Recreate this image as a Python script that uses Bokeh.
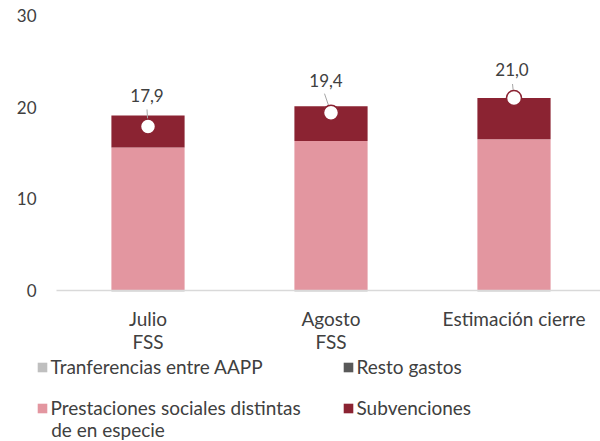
from bokeh.plotting import figure
from bokeh.models import (ColumnDataSource, FixedTicker, Range1d, Legend,
                          LegendItem, Label)
from bokeh.core.properties import value
from bokeh.embed import file_html
from bokeh.resources import INLINE

# ---------------- data ----------------
categories = ["Julio\nFSS", "Agosto\nFSS", "Estimación cierre"]
prestaciones = [15.6, 16.3, 16.5]      # Prestaciones sociales distintas de en especie
subvenciones = [3.5, 3.8, 4.5]         # Subvenciones
transferencias = [-0.1, -0.1, -0.1]    # Tranferencias entre AAPP
resto_gastos = [0.0, 0.0, 0.0]         # Resto gastos
total = [17.9, 19.4, 21.0]             # total (markers)
y_ticks = [0, 10, 20, 30]
legend_labels = ["Tranferencias entre AAPP", "Resto gastos",
                 "Prestaciones sociales distintas", "Subvenciones"]
legend_label_2nd_line = "de en especie"

# ---------------- styling / layout ----------------
FONT = "Lato"
TXT = "#404040"
C_PREST = "#E396A0"
C_SUBV = "#8B2332"
C_TRANS = "#BFBFBF"
C_RESTO = "#595959"

W, H = 600, 441
ORIGIN_X, ORIGIN_Y = 56, 290       # pixel position of (0, 0)
PX_X = 183.0                       # pixels per category
PX_Y = 275.0 / 30                  # pixels per unit
X_START, X_END = -ORIGIN_X / PX_X, (W - ORIGIN_X) / PX_X
Y_START, Y_END = -(H - ORIGIN_Y) / PX_Y, ORIGIN_Y / PX_Y
BAR_W = 0.4

# data-label placement (screen px relative to the marker)
label_dx = [-1, -5, -2]
label_dy = [-31, -32, -29]
leader_dx = [-1, -6.5, -1.5]
leader_dy = [-17, -19, -14]

xc = [i + 0.5 for i in range(len(categories))]
subv_top = [a + b for a, b in zip(prestaciones, subvenciones)]
resto_top = [a + b for a, b in zip(transferencias, resto_gastos)]

p = figure(width=W, height=H, output_backend="svg", toolbar_location=None,
           title=None, x_range=Range1d(X_START, X_END), y_range=Range1d(Y_START, Y_END),
           min_border=0)
p.outline_line_color = None
p.grid.visible = False

r_prest = p.vbar(x=xc, width=BAR_W, bottom=0, top=prestaciones,
                 fill_color=C_PREST, line_color=None)
r_subv = p.vbar(x=xc, width=BAR_W, bottom=prestaciones, top=subv_top,
                fill_color=C_SUBV, line_color=None)
r_trans = p.vbar(x=xc, width=BAR_W, bottom=transferencias, top=0,
                 fill_color=C_TRANS, line_color=None)
r_resto = p.vbar(x=xc, width=BAR_W, bottom=resto_top, top=transferencias,
                 fill_color=C_RESTO, line_color=None)

# leader lines
x1 = [x + d / PX_X for x, d in zip(xc, leader_dx)]
y1 = [t - d / PX_Y for t, d in zip(total, leader_dy)]
p.segment(x0=xc, y0=total, x1=x1, y1=y1, line_color="#A6A6A6", line_width=1)

# total markers
p.scatter(x=xc, y=total, size=15, marker="circle", fill_color="white",
          line_color=C_SUBV, line_width=1.5)

# data labels
lab_src = ColumnDataSource(dict(
    x=xc, y=total, dx=label_dx, dy=label_dy,
    t=[f"{v:.1f}".replace(".", ",") for v in total]))
p.text(x="x", y="y", text="t", x_offset="dx", y_offset="dy", source=lab_src,
       text_align="center", text_baseline="middle", text_color=TXT,
       text_font=value(FONT), text_font_size="17px")

# axes (placed at the data origin)
xa = p.xaxis[0]
xa.fixed_location = 0
xa.bounds = (0, X_END)
xa.ticker = FixedTicker(ticks=xc)
xa.major_label_overrides = {x: c for x, c in zip(xc, categories)}
xa.axis_line_color = "#D9D9D9"
xa.axis_line_width = 1.5
xa.major_tick_line_color = None
xa.minor_tick_line_color = None
xa.major_tick_out = 0
xa.major_tick_in = 0
xa.major_label_standoff = 16
xa.major_label_text_font = FONT
xa.major_label_text_font_size = "19px"
xa.major_label_text_color = TXT
xa.major_label_text_line_height = 1.0

ya = p.yaxis[0]
ya.fixed_location = 0
ya.ticker = FixedTicker(ticks=y_ticks)
ya.axis_line_color = None
ya.major_tick_line_color = None
ya.minor_tick_line_color = None
ya.major_tick_out = 0
ya.major_tick_in = 0
ya.major_label_standoff = 20
ya.major_label_text_font = FONT
ya.major_label_text_font_size = "17px"
ya.major_label_text_color = TXT

# legend
legend = Legend(items=[LegendItem(label=l, renderers=[r])
                       for l, r in zip(legend_labels, [r_trans, r_resto, r_prest, r_subv])],
                ncols=2, orientation="horizontal", location=(35.5, 22),
                glyph_width=12, glyph_height=12, label_standoff=3, label_width=273,
                label_height=20, spacing=18, padding=0, margin=0,
                border_line_color=None, background_fill_alpha=0,
                label_text_font=FONT, label_text_font_size="19px",
                label_text_color=TXT, label_text_baseline="alphabetic")
p.add_layout(legend)

p.add_layout(Label(x=50.7, y=12.5, x_units="screen", y_units="screen",
                   text=legend_label_2nd_line, text_font=FONT, text_font_size="19px",
                   text_color=TXT, text_baseline="alphabetic"))

open("out.html", "w").write(file_html(p, INLINE))
